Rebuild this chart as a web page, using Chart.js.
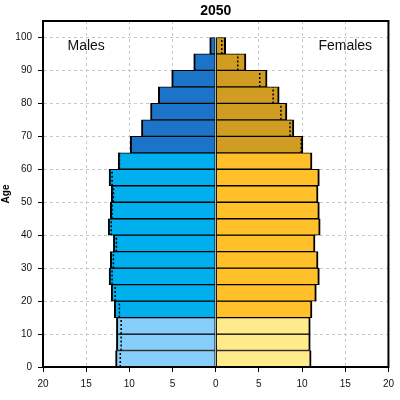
<!DOCTYPE html>
<html>
<head>
<meta charset="utf-8">
<script src="https://cdn.jsdelivr.net/npm/chart.js@4.4.1/dist/chart.umd.min.js"></script>
<style>
  html, body { margin: 0; padding: 0; background: #fff; }
</style>
</head>
<body>
<canvas id="pyramid" width="400" height="400"></canvas>
<script>
const chartTitle = '2050';
const ageGroups = ['0-4', '5-9', '10-14', '15-19', '20-24', '25-29', '30-34', '35-39', '40-44', '45-49',
  '50-54', '55-59', '60-64', '65-69', '70-74', '75-79', '80-84', '85-89', '90-94', '95-99', '100+'];
const ageLower = [0, 5, 10, 15, 20, 25, 30, 35, 40, 45, 50, 55, 60, 65, 70, 75, 80, 85, 90, 95, 100];
const groupWidth = 5;

const males = [11.6, 11.5, 11.5, 11.75, 12.1, 12.35, 12.2, 11.85, 12.45, 12.2, 12.1, 12.35,
  11.3, 9.9, 8.6, 7.55, 6.65, 5.1, 2.55, 0.7, 0];
const females = [11.05, 10.95, 10.95, 11.15, 11.65, 12.0, 11.85, 11.5, 12.1, 12.0, 11.85, 12.0,
  11.15, 10.1, 9.05, 8.25, 7.35, 5.95, 3.5, 1.15, 0];

const ageTicks = [0, 10, 20, 30, 40, 50, 60, 70, 80, 90, 100];
const xTicks = [-20, -15, -10, -5, 0, 5, 10, 15, 20];

// colours for children / working age / elderly
const maleColors = ['#87CEFA', '#00B0EE', '#1C74C8'];
const femaleColors = ['#FFEB8B', '#FFC02A', '#D09C22'];

function band(lower) {
  if (lower < 15) return 0;
  if (lower < 65) return 1;
  return 2;
}

// dotted marker = the other sex's value, shown where it falls inside the bar
function markerPoints(own, other, sign) {
  const pts = [];
  own.forEach((v, i) => {
    if (other[i] > 0 && other[i] < v) {
      pts.push({ x: sign * other[i], y: ageLower[i] });
      pts.push({ x: sign * other[i], y: ageLower[i] + groupWidth });
      pts.push({ x: null, y: null });
    }
  });
  return pts;
}

const fontFamily = '"Liberation Sans", Arial, sans-serif';
Chart.defaults.font.family = fontFamily;
Chart.defaults.color = '#000';

const gridGray = '#c8c8c8';

const textPlugin = {
  id: 'pyramidText',
  afterDraw(chart) {
    const { ctx, chartArea: a } = chart;
    const xs = chart.scales.x;
    const ys = chart.scales.yAge;
    ctx.save();
    ctx.strokeStyle = '#000';
    ctx.lineWidth = 2;
    ctx.strokeRect(a.left, a.top, a.right - a.left, a.bottom - a.top);
    ctx.fillStyle = '#000';
    ctx.textAlign = 'center';
    ctx.textBaseline = 'middle';
    ctx.font = 'bold 14px ' + fontFamily;
    ctx.fillText(chartTitle, (a.left + a.right) / 2, 11);
    ctx.font = '14px ' + fontFamily;
    ctx.fillStyle = '#111';
    ctx.fillText('Males', xs.getPixelForValue(-15), ys.getPixelForValue(97.5));
    ctx.fillText('Females', xs.getPixelForValue(15), ys.getPixelForValue(97.5));
    ctx.restore();
  }
};

const ctx = document.getElementById('pyramid').getContext('2d');
const chart = new Chart(ctx, {
  type: 'bar',
  data: {
    labels: ageGroups,
    datasets: [{
      label: 'Males',
      data: males.map(v => -v),
      backgroundColor: ageLower.map(a => maleColors[band(a)]),
      borderColor: '#000',
      borderWidth: { left: 2, right: 1, top: 1, bottom: 1 },
      borderSkipped: false,
      grouped: false,
      barPercentage: 1,
      categoryPercentage: 1,
      xAxisID: 'x',
      yAxisID: 'y',
      order: 1
    }, {
      label: 'Females',
      data: females,
      backgroundColor: ageLower.map(a => femaleColors[band(a)]),
      borderColor: '#000',
      borderWidth: { left: 1, right: 2, top: 1, bottom: 1 },
      borderSkipped: false,
      grouped: false,
      barPercentage: 1,
      categoryPercentage: 1,
      xAxisID: 'x',
      yAxisID: 'y',
      order: 1
    }, {
      type: 'line',
      label: 'Females (on male side)',
      data: markerPoints(males, females, -1),
      borderColor: '#000',
      borderWidth: 1.5,
      borderDash: [2, 2],
      pointRadius: 0,
      fill: false,
      spanGaps: false,
      xAxisID: 'x',
      yAxisID: 'yAge',
      order: 0
    }, {
      type: 'line',
      label: 'Males (on female side)',
      data: markerPoints(females, males, 1),
      borderColor: '#000',
      borderWidth: 1.5,
      borderDash: [2, 2],
      pointRadius: 0,
      fill: false,
      spanGaps: false,
      xAxisID: 'x',
      yAxisID: 'yAge',
      order: 0
    }]
  },
  options: {
    indexAxis: 'y',
    responsive: false,
    animation: false,
    layout: { padding: { top: 21, right: 11, left: 0, bottom: 0 } },
    plugins: {
      legend: { display: false },
      title: { display: false },
      tooltip: { enabled: false }
    },
    scales: {
      x: {
        type: 'linear',
        min: -20,
        max: 20,
        offset: false,
        afterBuildTicks: s => { s.ticks = xTicks.map(v => ({ value: v })); },
        afterFit: s => { s.height = 33; },
        ticks: {
          padding: 6,
          font: { size: 10 },
          color: '#111',
          callback: v => String(Math.abs(v))
        },
        grid: {
          offset: false,
          color: c => (c.tick && c.tick.value === 0) ? 'rgba(0,0,0,0)' : gridGray,
          lineWidth: 1,
          tickLength: 5,
          tickColor: '#000'
        },
        border: { display: true, color: '#000', width: 2, dash: [3, 3] }
      },
      y: {
        type: 'category',
        reverse: true,
        display: false,
        grid: { display: false }
      },
      yAge: {
        type: 'linear',
        position: 'left',
        min: 0,
        max: 105,
        offset: false,
        afterBuildTicks: s => { s.ticks = ageTicks.map(v => ({ value: v })); },
        afterFit: s => { s.width = 43; },
        title: {
          display: true,
          text: 'Age',
          font: { size: 10, weight: 'bold' },
          color: '#000',
          padding: 0
        },
        ticks: {
          padding: 6,
          font: { size: 10 },
          color: '#111'
        },
        grid: {
          offset: false,
          color: gridGray,
          lineWidth: 1,
          tickLength: 5,
          tickColor: '#000'
        },
        border: { display: true, color: '#000', width: 2, dash: [3, 3] }
      }
    }
  },
  plugins: [textPlugin]
});
</script>
</body>
</html>
